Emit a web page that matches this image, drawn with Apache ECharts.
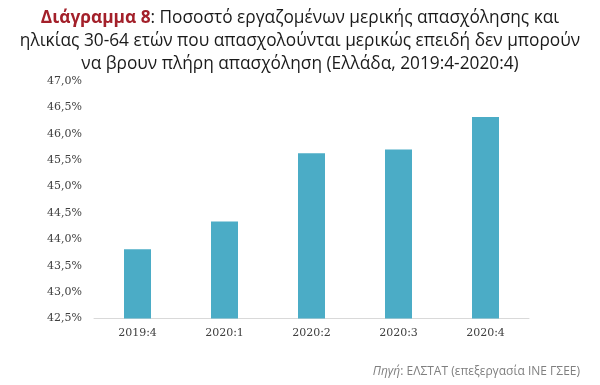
<!DOCTYPE html>
<html>
<head>
<meta charset="utf-8">
<script src="https://cdn.jsdelivr.net/npm/echarts@6/dist/echarts.min.js"></script>
<style>
html,body{margin:0;padding:0;background:#fff;}
#main{width:600px;height:385px;}
</style>
</head>
<body>
<div id="main"></div>
<script>
const categories = ['2019:4', '2020:1', '2020:2', '2020:3', '2020:4'];
const values = [43.81, 44.34, 45.63, 45.70, 46.32];
const yMin = 42.5, yMax = 47.0, yStep = 0.5;

const chart = echarts.init(document.getElementById('main'), null, {renderer: 'canvas'});
chart.setOption({
  backgroundColor: '#ffffff',
  animation: false,
  title: [{
    left: 'center',
    top: 3,
    padding: [4, 30, 4, 4],
    text: '{r|Διάγραμμα 8}{n|: Ποσοστό εργαζομένων μερικής απασχόλησης και}\n{n|ηλικίας 30-64 ετών που απασχολούνται μερικώς επειδή δεν μπορούν}\n{n|να βρουν πλήρη απασχόληση (Ελλάδα, 2019:4-2020:4)}',
    textStyle: {
      fontWeight: 'normal',
      rich: {
        r: {fontFamily: 'Open Sans', fontSize: 17.3, fontWeight: 'bold', color: '#a3202a', lineHeight: 23},
        n: {fontFamily: 'Open Sans', fontSize: 17.3, fontWeight: 'normal', color: '#1a1a1a', lineHeight: 23}
      }
    }
  }, {
    right: 15,
    top: 361,
    text: '{i|Πηγή}{n|: ΕΛΣΤΑΤ (επεξεργασία ΙΝΕ ΓΣΕΕ)}',
    textStyle: {
      fontWeight: 'normal',
      rich: {
        i: {fontFamily: 'Open Sans', fontSize: 12, fontStyle: 'italic', fontWeight: 'normal', color: '#7f7f7f'},
        n: {fontFamily: 'Open Sans', fontSize: 12, fontWeight: 'normal', color: '#7f7f7f'}
      }
    }
  }],
  grid: {left: 94, right: 71, top: 81, bottom: 66.5, containLabel: false},
  xAxis: {
    type: 'category',
    data: categories,
    axisLine: {lineStyle: {color: '#d9d9d9', width: 1}},
    axisTick: {show: false},
    axisLabel: {fontFamily: 'DejaVu Serif', fontSize: 11, color: '#404040', margin: 9}
  },
  yAxis: {
    type: 'value',
    min: yMin, max: yMax, interval: yStep,
    axisLine: {show: false},
    axisTick: {show: false},
    splitLine: {show: false},
    axisLabel: {
      fontFamily: 'DejaVu Serif', fontSize: 11, color: '#404040', margin: 12,
      formatter: v => v.toFixed(1).replace('.', ',') + '%'
    }
  },
  series: [{
    type: 'bar',
    data: values,
    barWidth: 27,
    itemStyle: {color: '#4bacc6'}
  }]
});
</script>
</body>
</html>
